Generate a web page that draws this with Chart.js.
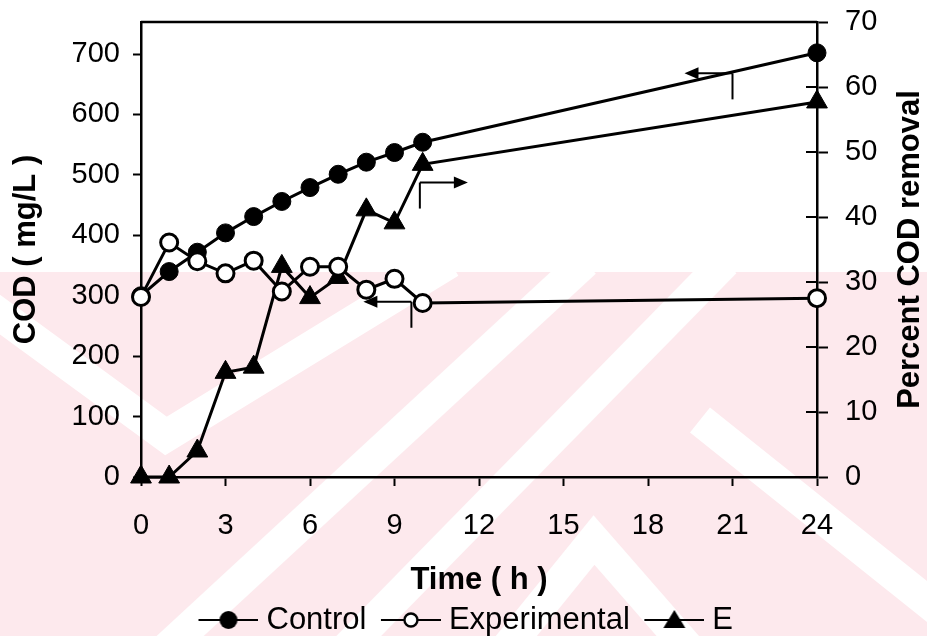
<!DOCTYPE html>
<html>
<head>
<meta charset="utf-8">
<title>COD removal</title>
<script src="https://cdn.jsdelivr.net/npm/chart.js@4.4.0/dist/chart.umd.min.js"></script>
<style>
  html, body { margin: 0; padding: 0; background: #fff; }
  #wrap { width: 927px; height: 640px; }
</style>
</head>
<body>
<div id="wrap"><canvas id="codChart"></canvas></div>
<script>
const FONT = "'Liberation Sans', Arial, sans-serif";

// sampling times (h) and measured values
const hours           = [0, 1, 2, 3, 4, 5, 6, 7, 8, 9, 10, 24];
const controlCOD      = [300, 340, 372, 404, 431, 456, 479, 501, 521, 537, 554, 702];
const experimentalCOD = [298, 388, 357, 337, 358, 307, 348, 348, 310, 328, 288, 296];
const removalE        = [0, 0, 4.0, 16.1, 16.9, 32.4, 27.6, 30.7, 41.1, 39.1, 48.1, 57.7];

const timeTicks    = [0, 3, 6, 9, 12, 15, 18, 21, 24];
const codTicks     = [0, 100, 200, 300, 400, 500, 600, 700];
const percentTicks = [0, 10, 20, 30, 40, 50, 60, 70];

const toXY = (ys) => hours.map((h, i) => ({ x: h, y: ys[i] }));

// little "line + marker" swatches for the legend
function legendIcon(kind) {
  const c = document.createElement('canvas');
  c.width = 72; c.height = 26;
  const g = c.getContext('2d');
  g.strokeStyle = '#000'; g.fillStyle = '#000'; g.lineWidth = 2.2;
  g.beginPath(); g.moveTo(12, 13); g.lineTo(72, 13); g.stroke();
  const cx = 42, cy = 13;
  g.beginPath();
  if (kind === 'filled') {
    g.arc(cx, cy, 9, 0, Math.PI * 2); g.fill();
  } else if (kind === 'open') {
    g.arc(cx, cy, 6.5, 0, Math.PI * 2);
    g.fillStyle = '#fff'; g.fill(); g.lineWidth = 2.4; g.stroke();
  } else {
    g.moveTo(cx, cy - 10); g.lineTo(cx + 11, cy + 8); g.lineTo(cx - 11, cy + 8);
    g.closePath(); g.fill();
  }
  return c;
}
const legendIcons = [legendIcon('filled'), legendIcon('open'), legendIcon('tri')];

// pale background stamp behind the plot
const stampPlugin = {
  id: 'stamp',
  beforeDraw(chart) {
    const ctx = chart.ctx;
    ctx.save();
    ctx.fillStyle = '#fde9ed';
    ctx.fillRect(0, 272, chart.width, 364);
    ctx.beginPath();
    ctx.rect(0, 272, chart.width, 364);
    ctx.clip();
    ctx.strokeStyle = '#fff';
    ctx.lineWidth = 32;
    ctx.lineCap = 'butt';
    const bands = [
      [[-20, 300], [166, 436], [450, 262]],
      [[585, 262], [165, 650]],
      [[725, 262], [345, 650]],
      [[700, 420], [940, 612]],
      [[505, 650], [594, 540], [690, 650]]
    ];
    bands.forEach(pts => {
      ctx.beginPath();
      ctx.moveTo(pts[0][0], pts[0][1]);
      for (let i = 1; i < pts.length; i++) ctx.lineTo(pts[i][0], pts[i][1]);
      ctx.stroke();
    });
    ctx.restore();
  }
};

// frame top, inner half of the right ticks, right title and axis pointers
const decorPlugin = {
  id: 'decor',
  afterDatasetsDraw(chart) {
    const { ctx, chartArea: a, scales } = chart;
    ctx.save();
    ctx.strokeStyle = '#000';
    ctx.fillStyle = '#000';

    ctx.lineWidth = 2.5;
    ctx.beginPath(); ctx.moveTo(a.left, a.top); ctx.lineTo(a.right, a.top); ctx.stroke();

    ctx.lineWidth = 2;
    scales.y2.ticks.forEach(t => {
      const py = scales.y2.getPixelForValue(t.value);
      ctx.beginPath(); ctx.moveTo(a.right - 11, py); ctx.lineTo(a.right, py); ctx.stroke();
    });

    // arrows telling which axis each curve belongs to
    const pointers = [
      { axis: 'y',  x: 21,  y: 668,  dir: -1 },
      { axis: 'y2', x: 9.9, y: 45.3, dir: 1 },
      { axis: 'y',  x: 9.6, y: 290,  dir: -1 }
    ];
    pointers.forEach(p => {
      const px = scales.x.getPixelForValue(p.x);
      const py = scales[p.axis].getPixelForValue(p.y);
      ctx.lineWidth = 2;
      ctx.beginPath(); ctx.moveTo(px, py); ctx.lineTo(px, py + 26); ctx.stroke();
      ctx.beginPath(); ctx.moveTo(px, py); ctx.lineTo(px + p.dir * 36, py); ctx.stroke();
      ctx.beginPath();
      ctx.moveTo(px + p.dir * 48, py);
      ctx.lineTo(px + p.dir * 34, py - 6);
      ctx.lineTo(px + p.dir * 34, py + 6);
      ctx.closePath(); ctx.fill();
    });

    ctx.font = 'bold 31px ' + FONT;
    ctx.textAlign = 'center';
    ctx.textBaseline = 'alphabetic';
    ctx.translate(scales.y2.right - 8, (a.top + a.bottom) / 2);
    ctx.rotate(-Math.PI / 2);
    ctx.fillText('Percent COD removal', 0, 0);
    ctx.restore();
  }
};

const tickFont = { size: 29, family: FONT };
const titleFont = { size: 31, weight: 'bold', family: FONT };
const noPad = s => { s.paddingTop = 0; s.paddingBottom = 0; s.paddingLeft = 0; s.paddingRight = 0; };

new Chart(document.getElementById('codChart'), {
  type: 'line',
  data: {
    datasets: [
      {
        label: 'Control', data: toXY(controlCOD), yAxisID: 'y', order: 1,
        borderColor: '#000', borderWidth: 3, pointBackgroundColor: '#000', pointBorderColor: '#000',
        pointRadius: 9, pointBorderWidth: 1, pointStyle: 'circle', clip: false
      },
      {
        label: 'Experimental', data: toXY(experimentalCOD), yAxisID: 'y', order: 0,
        borderColor: '#000', borderWidth: 3, pointBackgroundColor: '#fff', pointBorderColor: '#000',
        pointRadius: 8.5, pointBorderWidth: 3, pointStyle: 'circle', clip: false
      },
      {
        label: 'E', data: toXY(removalE), yAxisID: 'y2', order: 2,
        borderColor: '#000', borderWidth: 3, pointBackgroundColor: '#000', pointBorderColor: '#000',
        pointRadius: 12, pointBorderWidth: 1, pointStyle: 'triangle', clip: false
      }
    ]
  },
  options: {
    responsive: true,
    maintainAspectRatio: false,
    animation: false,
    layout: { padding: { top: 22, left: 0, right: 0, bottom: -5.5 } },
    plugins: {
      tooltip: { enabled: false },
      legend: {
        position: 'bottom',
        labels: {
          usePointStyle: true,
          pointStyleWidth: 57,
          padding: 10,
          color: '#000',
          font: { size: 31, family: FONT },
          generateLabels: chart => chart.data.datasets.map((ds, i) => ({
            text: ds.label, pointStyle: legendIcons[i], datasetIndex: i,
            fillStyle: '#000', strokeStyle: '#000', lineWidth: 0, hidden: false, fontColor: '#000'
          }))
        }
      }
    },
    scales: {
      x: {
        type: 'linear', min: 0, max: 24,
        afterBuildTicks: s => { s.ticks = timeTicks.map(v => ({ value: v })); },
        afterFit: s => { noPad(s); s.height = 117.5; },
        border: { display: true, color: '#000', width: 2.5 },
        grid: { drawOnChartArea: false, drawTicks: true, tickLength: 9, tickWidth: 2, tickColor: '#000' },
        ticks: { color: '#000', font: tickFont, padding: 23, maxRotation: 0, autoSkip: false },
        title: { display: true, text: 'Time ( h )', color: '#000', font: titleFont, padding: { top: 0, bottom: -5 } }
      },
      y: {
        position: 'left', min: 0, max: 753,
        afterBuildTicks: s => { s.ticks = codTicks.map(v => ({ value: v })); },
        afterFit: s => { noPad(s); s.width = 141; },
        border: { display: true, color: '#000', width: 2.5 },
        grid: { drawOnChartArea: false, drawTicks: true, tickLength: 8, tickWidth: 2, tickColor: '#000' },
        ticks: { color: '#000', font: tickFont, padding: 13 },
        title: { display: true, text: 'COD ( mg/L )', color: '#000', font: titleFont, padding: { top: 8, bottom: 0 } }
      },
      y2: {
        position: 'right', min: 0, max: 70,
        afterBuildTicks: s => { s.ticks = percentTicks.map(v => ({ value: v })); },
        afterFit: s => { noPad(s); s.width = 110; },
        border: { display: true, color: '#000', width: 2.5 },
        grid: { drawOnChartArea: false, drawTicks: true, tickLength: 11, tickWidth: 2, tickColor: '#000' },
        ticks: { color: '#000', font: tickFont, padding: 17 }
      }
    }
  },
  plugins: [stampPlugin, decorPlugin]
});
</script>
</body>
</html>
